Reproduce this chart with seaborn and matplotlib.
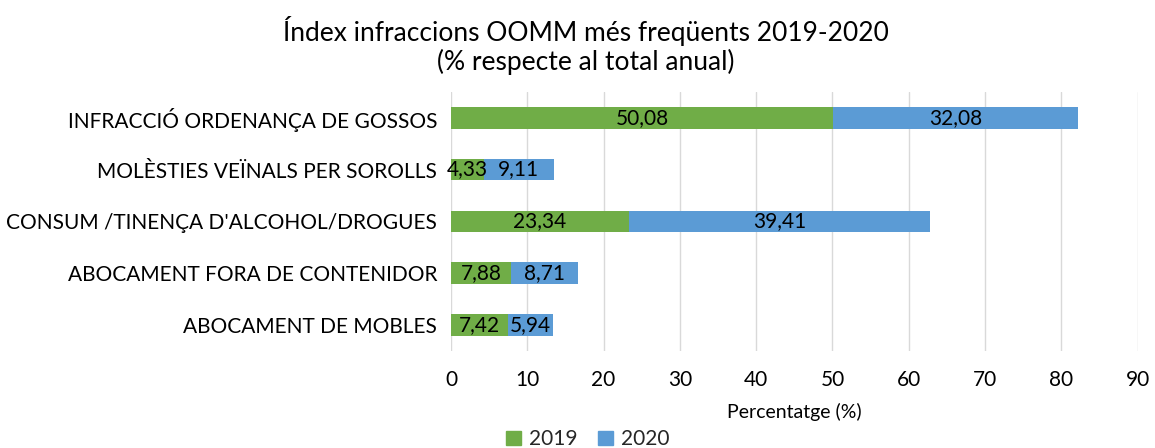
import numpy as np
import pandas as pd
import matplotlib
matplotlib.use("Agg")
import matplotlib.pyplot as plt
import seaborn as sns
from matplotlib.patches import Patch

categories = ["INFRACCIÓ ORDENANÇA DE GOSSOS",
              "MOLÈSTIES VEÏNALS PER SOROLLS",
              "CONSUM /TINENÇA D'ALCOHOL/DROGUES",
              "ABOCAMENT FORA DE CONTENIDOR",
              "ABOCAMENT DE MOBLES"]
val_2019 = [50.08, 4.33, 23.34, 7.88, 7.42]
val_2020 = [32.08, 9.11, 39.41, 8.71, 5.94]

green = "#70AD47"
blue = "#5B9BD5"

sns.set_theme(style="white")
plt.rcParams["font.family"] = ["Lato", "DejaVu Sans"]

df = pd.DataFrame({"cat": categories, "y2019": val_2019, "y2020": val_2020})
df["total"] = df["y2019"] + df["y2020"]

fig = plt.figure(figsize=(11.55, 4.48), dpi=100)
ax = fig.add_axes([0.3905, 0.2165, 0.5945, 0.5785])

# stacked: total in blue first, 2019 green on top
sns.barplot(data=df, y="cat", x="total", color=blue, orient="h",
            width=0.42, ax=ax, saturation=1, zorder=3, linewidth=0)
sns.barplot(data=df, y="cat", x="y2019", color=green, orient="h",
            width=0.42, ax=ax, saturation=1, zorder=3, linewidth=0)

def fmt(v):
    return f"{v:.2f}".replace(".", ",")

for i, (a, b) in enumerate(zip(val_2019, val_2020)):
    ax.text(a / 2, i, fmt(a), ha="center", va="center", fontsize=15, color="black", zorder=4)
    ax.text(a + b / 2, i, fmt(b), ha="center", va="center", fontsize=15, color="black", zorder=4)

ax.set_xlim(0, 90)
ax.set_xticks(np.arange(0, 91, 10))
ax.set_ylim(4.5, -0.5)
ax.grid(axis="x", color="#D9D9D9", linewidth=1.0, zorder=0)
ax.grid(axis="y", visible=False)
for s in ax.spines.values():
    s.set_visible(False)
ax.tick_params(axis="both", length=0, labelsize=15, colors="black")
ax.tick_params(axis="x", pad=14)
ax.tick_params(axis="y", pad=10)
ax.set_ylabel("")
ax.set_xlabel("Percentatge (%)", fontsize=14, color="black", labelpad=9)

fig.suptitle("Índex infraccions OOMM més freqüents 2019-2020\n(% respecte al total anual)",
             x=0.507, y=0.965, fontsize=19, color="black", linespacing=1.15)

handles = [Patch(color=green, label="2019"), Patch(color=blue, label="2020")]
fig.legend(handles=handles, loc="lower center", bbox_to_anchor=(0.509, -0.045), ncol=2,
           frameon=False, fontsize=15, handlelength=0.7, handleheight=0.7,
           handletextpad=0.4, columnspacing=1.0)

fig.savefig("out.png", dpi=100)
